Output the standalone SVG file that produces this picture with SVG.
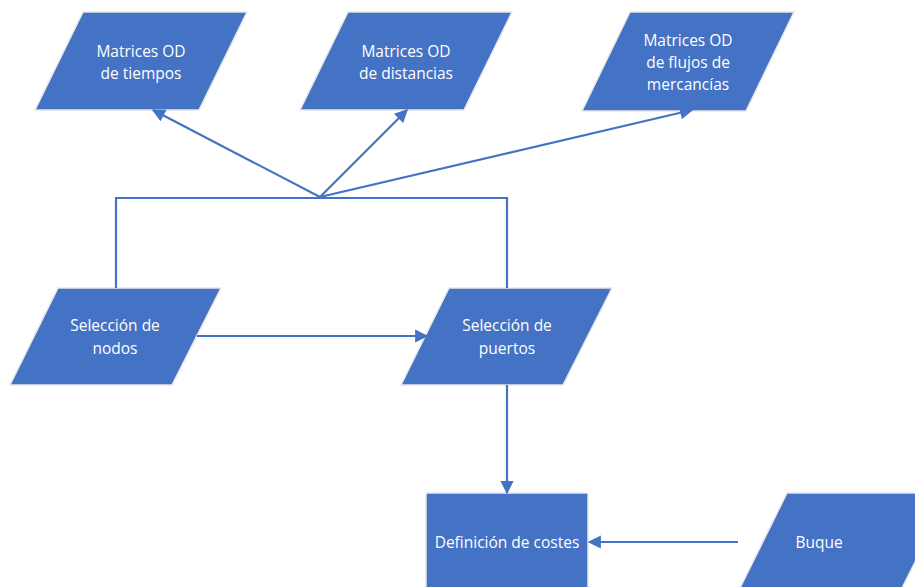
<svg xmlns="http://www.w3.org/2000/svg" width="915" height="587" viewBox="0 0 915 587">
<style>
.shape{fill:#4472C4;stroke:#E8E8E8;stroke-width:1.5}
.lbl{font-family:"Open Sans","Liberation Sans",sans-serif;font-size:15.5px;fill:#ffffff;text-anchor:middle}
.con{fill:none;stroke:#4472C4;stroke-width:2.2}
</style>
<defs>
<marker id="ah" viewBox="0 0 10 10" refX="9" refY="5" markerWidth="6.5" markerHeight="6" orient="auto" markerUnits="strokeWidth">
<path d="M0,0 L10,5 L0,10 z" fill="#4472C4"/>
</marker>
</defs>
<rect width="915" height="587" fill="#ffffff"/>
<g id="n-tiempos">
<polygon class="shape" points="83,12 247,12 199,110 35,110"/>
<text class="lbl" x="141" y="57">Matrices OD</text>
<text class="lbl" x="141" y="79">de tiempos</text>
</g>
<g id="n-distancias">
<polygon class="shape" points="348,12 512,12 464,110 300,110"/>
<text class="lbl" x="406" y="57">Matrices OD</text>
<text class="lbl" x="406" y="79">de distancias</text>
</g>
<g id="n-flujos">
<polygon class="shape" points="630,12 794,12 746,111 582,111"/>
<text class="lbl" x="688" y="46">Matrices OD</text>
<text class="lbl" x="688" y="68">de flujos de</text>
<text class="lbl" x="688" y="90">mercancías</text>
</g>
<g id="n-nodos">
<polygon class="shape" points="58,288 221,288 172,385 10,385"/>
<text class="lbl" x="115" y="331">Selección de</text>
<text class="lbl" x="115" y="354">nodos</text>
</g>
<g id="n-puertos">
<polygon class="shape" points="449,288 612,288 563,385 401,385"/>
<text class="lbl" x="507" y="331">Selección de</text>
<text class="lbl" x="507" y="354">puertos</text>
</g>
<g id="n-costes">
<rect class="shape" x="426" y="493" width="162" height="100"/>
<text class="lbl" x="507" y="548">Definición de costes</text>
</g>
<g id="n-buque">
<polygon class="shape" points="787,493 950,493 901,590 739,590"/>
<text class="lbl" x="819" y="548">Buque</text>
</g>
<g id="connectors">
<polyline class="con" points="116,288 116,198 507,198 507,288"/>
<line class="con" x1="320" y1="197" x2="153" y2="110" marker-end="url(#ah)"/>
<line class="con" x1="320" y1="197" x2="407" y2="110" marker-end="url(#ah)"/>
<line class="con" x1="320" y1="197" x2="692" y2="110" marker-end="url(#ah)"/>
<line class="con" x1="197" y1="336" x2="427" y2="336" marker-end="url(#ah)"/>
<line class="con" x1="507" y1="385" x2="507" y2="493" marker-end="url(#ah)"/>
<line class="con" x1="738" y1="542" x2="589" y2="542" marker-end="url(#ah)"/>
</g>
</svg>
